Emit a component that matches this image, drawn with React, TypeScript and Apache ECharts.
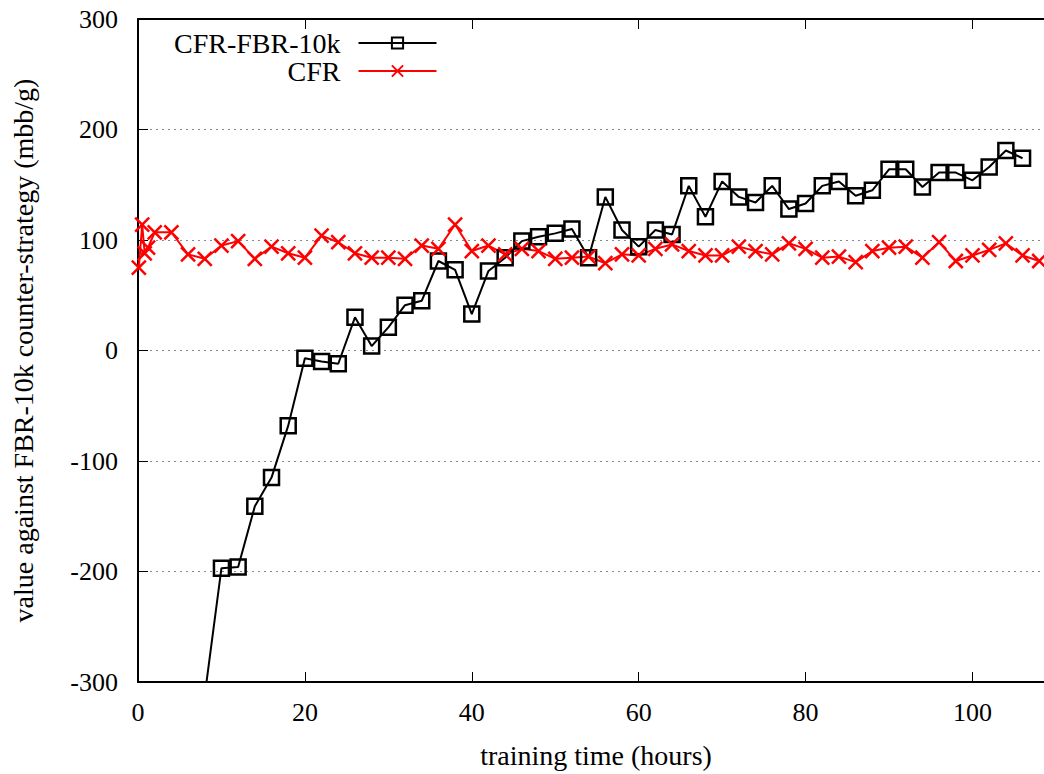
import React, { useEffect, useRef } from "react";
import * as echarts from "echarts";

const cfrFbrHours = [8, 10, 12, 14, 16, 18, 20, 22, 24, 26, 28, 30, 32, 34, 36, 38, 40, 42, 44, 46, 48, 50, 52, 54, 56, 58, 60, 62, 64, 66, 68, 70, 72, 74, 76, 78, 80, 82, 84, 86, 88, 90, 92, 94, 96, 98, 100, 102, 104, 106];
const cfrFbrValues = [-312, -197, -196, -141, -115, -68, -7, -10, -12, 30, 4, 21, 41, 45, 81, 73, 33, 72, 84, 99, 103, 106, 110, 84, 139, 109, 94, 109, 105, 149, 121, 153, 139, 134, 149, 128, 133, 149, 153, 140, 145, 164, 164, 148, 161, 161, 154, 166, 181, 174];

const cfrHours = [0.1, 0.5, 0.8, 1.2, 2, 4, 6, 8, 10, 12, 14, 16, 18, 20, 22, 24, 26, 28, 30, 32, 34, 36, 38, 40, 42, 44, 46, 48, 50, 52, 54, 56, 58, 60, 62, 64, 66, 68, 70, 72, 74, 76, 78, 80, 82, 84, 86, 88, 90, 92, 94, 96, 98, 100, 102, 104, 106, 108];
const cfrValues = [75, 114, 88, 93, 107, 107, 87, 83, 95, 99, 83, 94, 88, 84, 104, 98, 88, 84, 84, 83, 95, 92, 114, 90, 95, 87, 92, 90, 83, 84, 85, 79, 87, 86, 92, 96, 90, 86, 86, 94, 90, 87, 97, 92, 84, 85, 80, 90, 93, 94, 84, 98, 81, 86, 91, 97, 86, 81];

const yTicks = [-300, -200, -100, 0, 100, 200, 300];
const xTicks = [0, 20, 40, 60, 80, 100];

const FONT = "Liberation Serif";

export default function App() {
  const ref = useRef<HTMLDivElement>(null);
  useEffect(() => {
    if (!ref.current) return;
    const chart = echarts.init(ref.current, undefined, { renderer: "svg" });
    const blackData = cfrFbrHours.map((h, i) => [h, cfrFbrValues[i]]);
    const redData = cfrHours.map((h, i) => [h, cfrValues[i]]);
    const axisLine = { show: true, onZero: false, lineStyle: { color: "#000", width: 2 } };
    const axisTick = { show: true, inside: true, length: 10, lineStyle: { color: "#000", width: 1 } };
    chart.setOption({
      animation: false,
      backgroundColor: "#fff",
      textStyle: { fontFamily: FONT },
      grid: { left: 138, right: 0, top: 19, bottom: 87, containLabel: false },
      legend: {
        orient: "vertical",
        left: 174,
        top: 29,
        padding: 0,
        itemGap: 0,
        itemWidth: 78,
        itemHeight: 14,
        align: "right",
        selectedMode: false,
        textStyle: {
          fontFamily: FONT,
          fontSize: 28,
          color: "#000",
          width: 159,
          align: "right",
          lineHeight: 28,
          padding: [0, 13, 0, 0],
        },
        data: ["CFR-FBR-10k", "CFR"],
      },
      xAxis: [
        {
          type: "value",
          min: 0,
          max: 108.57,
          interval: 20,
          name: "training time (hours)",
          nameLocation: "middle",
          nameGap: 59,
          nameTextStyle: { fontFamily: FONT, fontSize: 28, color: "#000", padding: [0, 0, 0, 10] },
          axisLine,
          axisTick,
          axisLabel: {
            fontFamily: FONT,
            fontSize: 26,
            color: "#000",
            margin: 17,
            showMaxLabel: false,
            formatter: (v: number) => (xTicks.includes(v) ? String(v) : ""),
          },
          splitLine: { show: false },
        },
        {
          type: "value",
          position: "top",
          min: 0,
          max: 108.57,
          interval: 20,
          axisLine,
          axisTick,
          axisLabel: { show: false },
          splitLine: { show: false },
        },
      ],
      yAxis: {
        type: "value",
        min: -300,
        max: 300,
        interval: 100,
        name: "value against FBR-10k counter-strategy (mbb/g)",
        nameLocation: "middle",
        nameGap: 101,
        nameTextStyle: { fontFamily: FONT, fontSize: 28, color: "#000" },
        axisLine,
        axisTick,
        axisLabel: {
          fontFamily: FONT,
          fontSize: 26,
          color: "#000",
          margin: 20,
          formatter: (v: number) => (yTicks.includes(v) ? String(v) : ""),
        },
        splitLine: { show: true, lineStyle: { color: "#888", width: 1, type: [2, 4] } },
      },
      series: [
        {
          name: "CFR-FBR-10k",
          type: "line",
          data: blackData,
          symbol: "path://M0,0H10V10H0Z",
          symbolSize: 15,
          showAllSymbol: true,
          clip: true,
          lineStyle: { color: "#000", width: 2 },
          itemStyle: { color: "rgba(0,0,0,0)", borderColor: "#000", borderWidth: 2.5 },
        },
        {
          name: "CFR",
          type: "line",
          data: redData,
          symbol: "path://M0,0L10,10M10,0L0,10",
          symbolSize: 14,
          showAllSymbol: true,
          clip: true,
          lineStyle: { color: "#ff0000", width: 2 },
          itemStyle: { color: "rgba(0,0,0,0)", borderColor: "#ff0000", borderWidth: 2.5 },
        },
      ],
    });
    return () => chart.dispose();
  }, []);
  return (
    <div
      ref={ref}
      style={{ position: "fixed", left: 0, top: 0, width: 1044, height: 774, background: "#fff", overflow: "hidden" }}
    />
  );
}
